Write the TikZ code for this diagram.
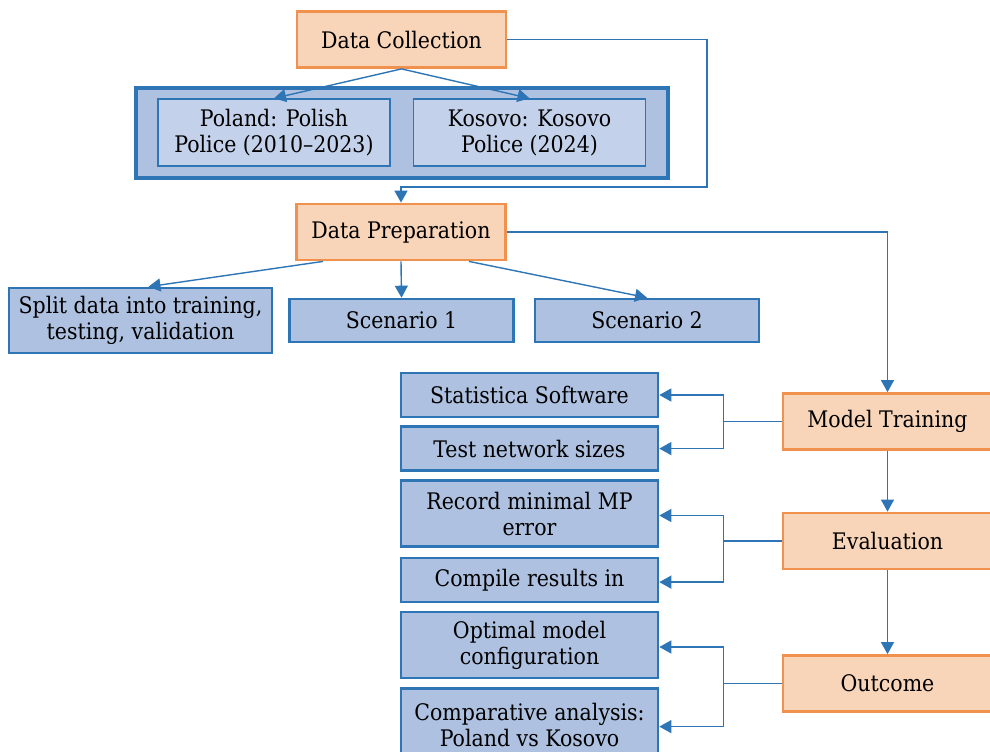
\documentclass[tikz,border=0pt]{standalone}
\usepackage{fontspec}
\setmainfont{DejaVu Serif Condensed}
\usetikzlibrary{positioning,arrows.meta}
\definecolor{stagefill}{HTML}{F8D5B8}
\definecolor{stageline}{HTML}{F0914E}
\definecolor{taskfill}{HTML}{AEC1E0}
\definecolor{subfill}{HTML}{C4D1EA}
\definecolor{taskline}{HTML}{2E75B6}

\tikzset{
  stage/.style={draw=stageline, fill=stagefill, line width=1.4pt, minimum width=104.5pt, minimum height=28pt, inner sep=1pt, align=center},
  task/.style={draw=taskline, fill=taskfill, line width=1.3pt, minimum width=128.5pt, minimum height=22pt, inner sep=1pt, align=center},
  subtask/.style={draw=taskline, fill=subfill, line width=0.7pt, minimum width=116pt, minimum height=33.5pt, inner sep=1pt, align=center},
  link/.style={color=taskline, line width=0.7pt, -{Triangle[length=6pt,width=6.5pt]}}
}

\begin{document}
\begin{tikzpicture}[x=0.5pt, y=-0.5pt, font=\fontsize{11.4}{13}\selectfont, node distance=4pt]
		\useasboundingbox (0,0) rectangle (990,751);
		\clip (0,0) rectangle (990,751);
		% top part
		\node[stage](collect) at (401.5,39.5) {Data Collection};
		\node[draw=taskline, fill=taskfill, line width=1.7pt, minimum width=266pt, minimum height=45pt](sources) at (402,133) {};
		\node[subtask](poland) at (274,132.5) {Poland: Polish\\Police (2010--2023)};
		\node[subtask](kosovo) at (529.5,132.5) {Kosovo: Kosovo\\Police (2024)};
		\node[stage](prep) at (401,232) {Data Preparation};
		\node[task, minimum width=131.5pt, minimum height=32.5pt](split) at (140.5,320.5) {Split data into training,\\testing, validation};
		\node[task, minimum width=112pt, minimum height=21.5pt](scen1) at (401.5,320.5) {Scenario 1};
		\node[task, minimum width=112pt, minimum height=21.5pt](scen2) at (647,320.5) {Scenario 2};
		% right column
		\node[stage](train) at (887.5,421.5) {Model Training};
		\node[stage](eval) at (887.5,541) {Evaluation};
		\node[stage](outcome) at (887.5,683.5) {Outcome};
		% left column
		\node[task](stat) at (529.5,395) {Statistica Software};
		\node[task](sizes)[below=3.5pt of stat] {Test network sizes};
		\node[task, minimum height=33pt](record) at (529.5,513.5) {Record minimal MP\\error};
		\node[task](compile)[below=4.5pt of record] {Compile results in};
		\node[task, minimum height=33pt](optimal) at (529.5,645) {Optimal model\\configuration};
		\node[task, minimum height=36pt](compare)[below=4pt of optimal] {Comparative analysis:\\Poland vs Kosovo};
		\coordinate (bend) at (707,187);
		\path[link]
		(collect.south) edge (poland.north)
		(collect.south) edge (kosovo.north)
		([xshift=-39pt]prep.south) edge ([xshift=4pt]split.north)
		(prep.south) edge (scen1.north)
		([xshift=34pt]prep.south) edge (scen2.north)
		(train) edge (eval)
		(eval) edge (outcome);
		\draw[link] (collect.east) -| (bend) -| (prep.north);
		\draw[link] (prep.east) -| (train.north);
		\draw[link] (train.west) -- ++(-58,0) coordinate (trainfork) |- (stat.east);
		\draw[link] (trainfork) |- (sizes.east);
		\draw[link] (eval.west) -- ++(-58,0) coordinate (evalfork) |- ([yshift=-1pt]record.east);
		\draw[link] (evalfork) |- ([yshift=-1pt]compile.east);
		\draw[link] (outcome.west) -- ++(-58,0) coordinate (outfork) |- ([yshift=-1pt]optimal.east);
		\draw[link] (outfork) |- ([yshift=-1pt]compare.east);
		\end{tikzpicture}
\end{document}
